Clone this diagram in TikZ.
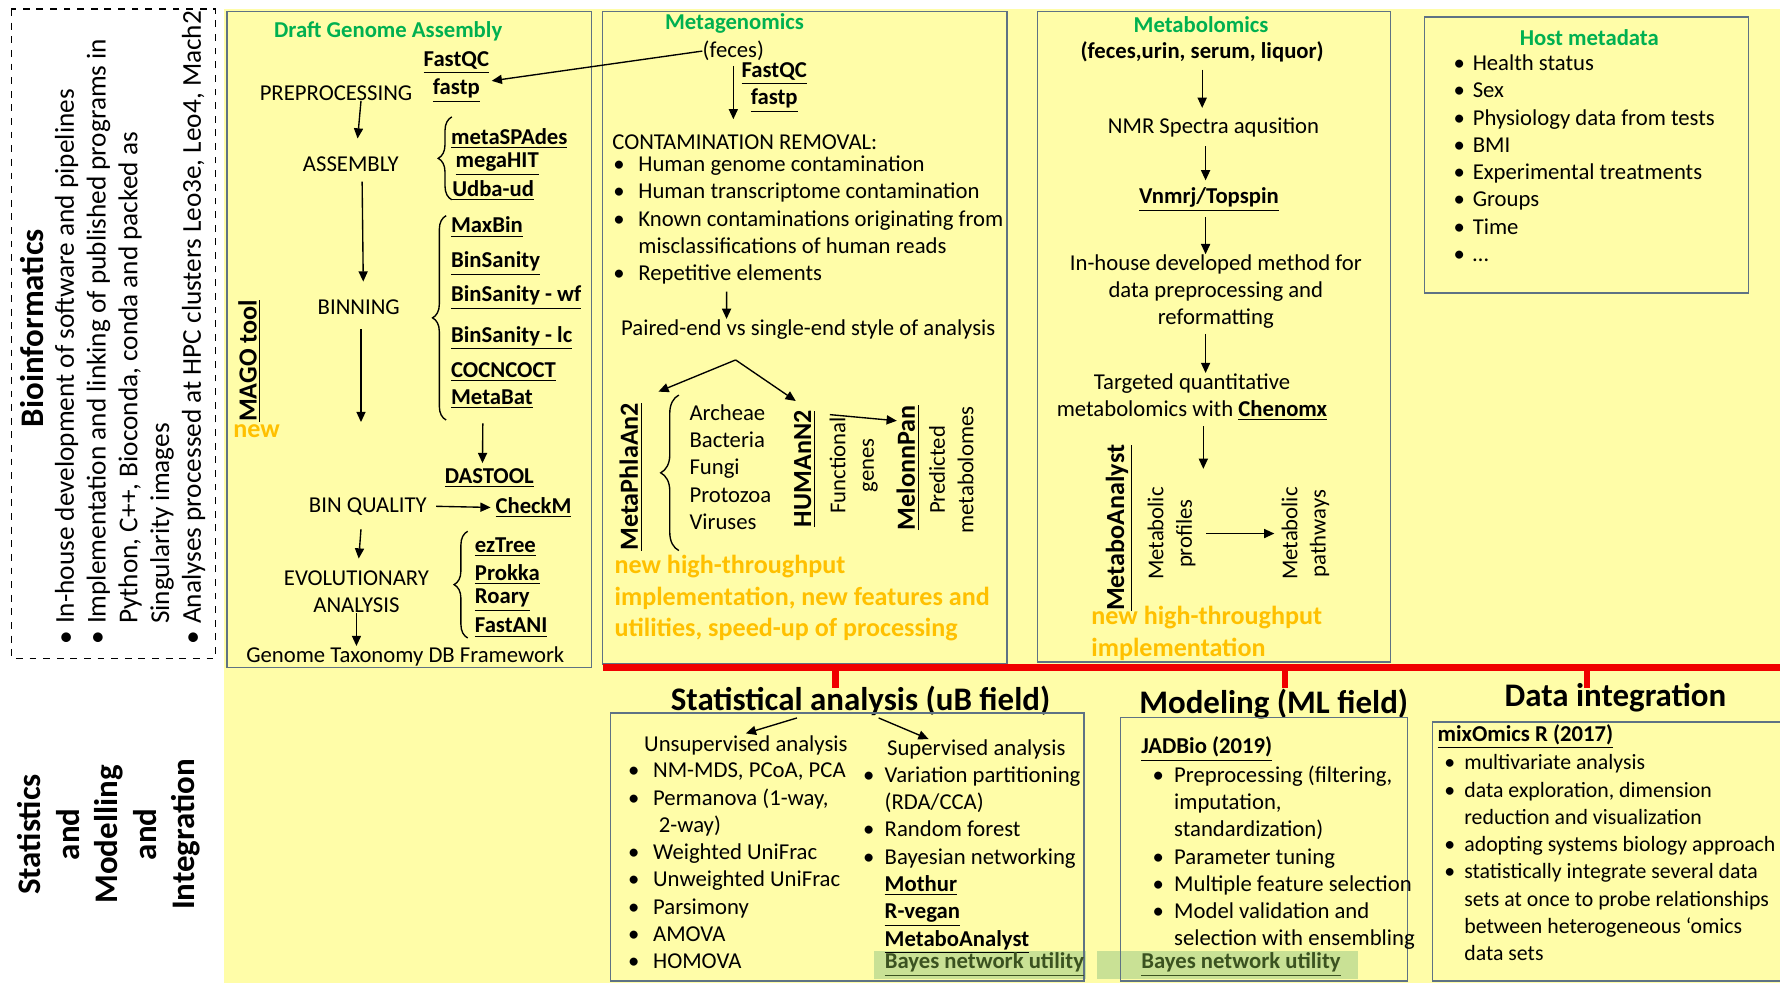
\documentclass[tikz,border=0pt]{standalone}
\usepackage{fontspec}
\setmainfont{Carlito}
\usetikzlibrary{arrows.meta,positioning,calc,decorations.pathreplacing}
\definecolor{sheet}{HTML}{FFFDA8}
\definecolor{frame}{HTML}{5E7284}
\definecolor{hdgreen}{HTML}{00B050}
\definecolor{newgold}{HTML}{FFC000}
\definecolor{redbar}{HTML}{F00000}
\definecolor{hlgreen}{HTML}{C9E195}
\definecolor{hltext}{HTML}{3B5220}
\newcommand{\tooln}[1]{\underline{\textbf{#1}}}
\newcommand{\blist}[2][6pt]{\begin{tabular}{@{}l@{\hspace{#1}}l@{}}#2\end{tabular}}
\tikzset{
  txt/.style   ={inner sep=0pt,font=\fontsize{10}{12}\selectfont},
  hdr/.style   ={inner sep=0pt,font=\fontsize{10}{12}\selectfont\bfseries,text=hdgreen},
  ttl/.style   ={inner sep=0pt,font=\fontsize{14.5}{17}\selectfont\bfseries},
  lbl/.style   ={inner sep=0pt,font=\fontsize{14.5}{17}\selectfont\bfseries,align=center},
  side/.style  ={inner sep=0pt,font=\fontsize{12}{14}\selectfont},
  vtool/.style ={inner sep=0pt,rotate=90,font=\fontsize{11.5}{14}\selectfont\bfseries},
  vtxt/.style  ={inner sep=0pt,rotate=90,align=center,font=\fontsize{10}{12.5}\selectfont},
  neu/.style   ={inner sep=0pt,align=left,text=newgold,
                 font=\fontsize{11.5}{13.75}\selectfont\bfseries},
  hl/.style    ={inner sep=0pt,text=hltext,font=\fontsize{10}{12}\selectfont},
  panel/.style ={draw=frame,line width=0.6pt},
  arr/.style   ={-{Triangle[length=4.5pt,width=4pt]},line width=0.6pt},
  brc/.style   ={decorate,decoration={brace,amplitude=6pt},line width=0.6pt},
  bar/.style   ={draw=redbar,line width=3pt}
}
\begin{document}
\begin{tikzpicture}[x=0.5pt,y=-0.5pt]
\useasboundingbox (0,0) rectangle (1568,866);
\fill[sheet] (197,8) rectangle (1568,866);

% bioinformatics side panel
\draw[dashed,line width=0.6pt] (10,8) rectangle (190,580);
\node[lbl,rotate=90] (bio) at (28,289) {Bioinformatics};
\node[side,rotate=90,anchor=north west] (biolist) at (45,568) {\blist[3pt]{%
  \textbullet & In-house development of software and pipelines\\
  \textbullet & Implementation and linking of published programs in\\
              & Python, C++, Bioconda, conda and packed as\\
              & Singularity images\\
  \textbullet & Analyses processed at HPC clusters Leo3e, Leo4, Mach2}};

% draft genome assembly
\draw[panel] (200,10) rectangle (521,588);
\node[hdr] (dga) at (342,28) {Draft Genome Assembly};
\node[txt] (dfqc) at (402,55) {\tooln{FastQC}};
\node[txt] (dfp) at (402,80) {\tooln{fastp}};
\node[txt] (pre) at (296,82) {PREPROCESSING};
\node[txt] (asm) at (309,145) {ASSEMBLY};
\node[txt,anchor=west] (spa) at (397,122) {\tooln{metaSPAdes}};
\node[txt,anchor=west] (mgh) at (401,145) {\tooln{megaHIT}};
\node[txt,anchor=west] (udb) at (398,168) {\tooln{Udba-ud}};
\draw[brc] (398,176) -- (398,103);
\node[txt] (bin) at (316,271) {BINNING};
\foreach \nm/\yy/\tx in {mxb/200/MaxBin,bsa/232/BinSanity,bwf/262/BinSanity - wf,
                         blc/298/BinSanity - lc,coc/328/COCNCOCT,mbat/352/MetaBat}
  \node[txt,anchor=west] (\nm) at (397,\yy) {\tooln{\tx}};
\draw[brc] (393,370) -- (393,190);
\node[txt] (dast) at (431,421) {\tooln{DASTOOL}};
\node[txt] (bq) at (324,446) {BIN QUALITY};
\node[txt] (chk) at (470,447) {\tooln{CheckM}};
\node[txt,align=center] (evo) at (314,521) {EVOLUTIONARY\\ANALYSIS};
\foreach \nm/\yy/\tx in {ezt/482/ezTree,prk/506/Prokka,roa/529/Roary,fani/553/FastANI}
  \node[txt,anchor=west] (\nm) at (418,\yy) {\tooln{\tx}};
\draw[brc] (412,562) -- (412,468);
\node[txt] (gtdb) at (357,578) {Genome Taxonomy DB Framework};
\node[vtool] (mago) at (220,318) {\underline{MAGO tool}};
\node[neu] (magonew) at (226,380) {new};
\draw[arr] ([xshift=11pt]pre.south) -- ([xshift=3pt,yshift=8pt]asm.north);
\draw[arr] ([xshift=5pt,yshift=-4pt]asm.south) -- ([xshift=2pt,yshift=8pt]bin.north);
\draw[arr,shorten >=33pt] ([xshift=1pt,yshift=-6pt]bin.south) -- ([xshift=-3pt]bq.north);
\draw[arr] ([xshift=-4pt,yshift=-6pt]mbat.south) -- ([xshift=-3pt,yshift=2pt]dast.north);
\draw[arr] ([xshift=4pt]bq.east) -- ([xshift=-2pt]chk.west);
\draw[arr] ([xshift=-3pt,yshift=-6pt]bq.south) -- ([xshift=1pt,yshift=5pt]evo.north);
\draw[arr] (evo.south) -- (evo.south |- gtdb.north);

% metagenomics
\draw[panel] (531,10) rectangle (887,585);
\node[hdr] (mgn) at (647,21) {Metagenomics};
\node[txt] (feces) at (646,45) {(feces)};
\node[txt] (mfqc) at (682,65) {\tooln{FastQC}};
\node[txt] (mfp) at (682,89) {\tooln{fastp}};
\node[txt,anchor=west] (crm) at (539,125) {CONTAMINATION REMOVAL:};
\node[txt,anchor=north west] (mglist) at (540,134) {\blist{%
  \textbullet & Human genome contamination\\
  \textbullet & Human transcriptome contamination\\
  \textbullet & Known contaminations originating from\\
              & misclassifications of human reads\\
  \textbullet & Repetitive elements}};
\node[txt] (pe) at (712,290) {Paired-end vs single-end style of analysis};
\node[vtool] (mpa) at (556,420) {\underline{MetaPhlaAn2}};
\draw[brc,decoration={amplitude=8pt}] (598,485) -- (598,348);
\node[txt,anchor=north west,align=left] (taxa) at (607,356)
  {Archeae\\Bacteria\\Fungi\\Protozoa\\Viruses};
\node[vtool] (hum) at (709,413) {\underline{HUMAnN2}};
\node[vtxt] (fgen) at (752,410) {Functional\\genes};
\node[vtool] (mel) at (800,412) {\underline{MelonnPan}};
\node[vtxt] (pmet) at (838,414) {Predicted\\metabolomes};
\node[neu,anchor=north west] (mgnew) at (541,489)
  {new high-throughput\\implementation, new features and\\utilities, speed-up of processing};
\coordinate (fork) at ([xshift=-32pt,yshift=-9pt]pe.south);
\coordinate (mpatop) at (580,345);
\draw[arr] (feces.west) -- ([xshift=1pt,yshift=-3pt]dfqc.south east);
\draw[arr,shorten <=2pt,shorten >=6.5pt] (feces.south) -- (feces.south |- crm.north);
\draw[arr] ([xshift=-36pt,yshift=-1pt]mglist.south) -- ([xshift=-36pt]pe.north);
\draw[arr] (fork) -- (mpatop);
\draw[arr] (fork) -- ([xshift=-4pt,yshift=4pt]hum.east);
\draw[arr] ([xshift=11pt,yshift=-2pt]hum.east) -- ([xshift=-5pt,yshift=-7pt]mel.east);

% metabolomics
\draw[panel] (914,10) rectangle (1225,583);
\node[hdr] (mbh) at (1058,22) {Metabolomics};
\node[txt,font=\fontsize{10}{12}\selectfont\bfseries] (smp) at (1059,46)
  {(feces,urin, serum, liquor)};
\node[txt] (nmr) at (1069,112) {NMR Spectra aqusition};
\node[txt] (vnm) at (1065,176) {\tooln{Vnmrj/Topspin}};
\node[txt,align=center] (inh) at (1071,257)
  {In-house developed method for\\data preprocessing and\\reformatting};
\node[txt,align=center] (tgt) at (1050,350)
  {Targeted quantitative\\metabolomics with \tooln{Chenomx}};
\coordinate (mbend) at (1060,413);
\node[vtool] (mban) at (986,465) {\underline{MetaboAnalyst}};
\node[vtxt] (prof) at (1032,470) {Metabolic\\profiles};
\node[vtxt] (pway) at (1150,470) {Metabolic\\pathways};
\node[neu,anchor=north west] (mbnew) at (961,534) {new high-throughput\\implementation};
\draw[arr,shorten <=3pt,shorten >=4pt] (smp.south) -- (smp.south |- nmr.north);
\draw[arr,shorten <=4pt,shorten >=3pt] ([xshift=-1.5pt]vnm.north |- nmr.south) -- ([xshift=-1.5pt]vnm.north);
\draw[arr,shorten <=2pt] ([xshift=-1.5pt]vnm.south) -- ([xshift=-1.5pt]vnm.south |- inh.north);
\draw[arr,shorten <=2pt] ([xshift=-4.5pt]inh.south) -- ([xshift=-4.5pt]inh.south |- tgt.north);
\draw[arr,shorten <=2pt] ([xshift=5pt]tgt.south) -- (mbend);
\draw[arr,shorten <=4.5pt,shorten >=3pt] (prof.south) -- (pway.north);

% host metadata
\draw[panel] (1255,15) rectangle (1540,258);
\node[hdr] (hmh) at (1400,33) {Host metadata};
\node[txt,anchor=north west] (hostlist) at (1280,45) {\blist[3.5pt]{%
  \textbullet & Health status\\
  \textbullet & Sex\\
  \textbullet & Physiology data from tests\\
  \textbullet & BMI\\
  \textbullet & Experimental treatments\\
  \textbullet & Groups\\
  \textbullet & Time\\
  \textbullet & \dots}};

% red link bar
\draw[bar] (531,588) -- (1568,588);
\foreach \xx in {736,1132,1398}
  \draw[bar] (\xx,588) -- (\xx,606);

% statistics and modelling and integration
\node[lbl,rotate=90] (smi) at (96,735) {Statistics\\and\\Modelling\\and\\Integration};
\fill[hlgreen] (770,838) rectangle (957,862);
\fill[hlgreen] (966,838) rectangle (1196,862);

\node[ttl] (stat) at (758,617) {Statistical analysis (uB field)};
\draw[panel] (538,628) rectangle (955,864);
\node[txt] (uns) at (657,657) {Unsupervised analysis};
\node[txt] (sup) at (860,660) {Supervised analysis};
\node[txt,anchor=north west] (unslist) at (553,668) {\blist{%
  \textbullet & NM-MDS, PCoA, PCA\\
  \textbullet & Permanova (1-way,\\
              & \hspace{2.5pt}2-way)\\
  \textbullet & Weighted UniFrac\\
  \textbullet & Unweighted UniFrac\\
  \textbullet & Parsimony\\
  \textbullet & AMOVA\\
  \textbullet & HOMOVA}};
\node[txt,anchor=north west] (suplist) at (760,672) {\blist[4.5pt]{%
  \textbullet & Variation partitioning\\
              & (RDA/CCA)\\
  \textbullet & Random forest\\
  \textbullet & Bayesian networking\\
              & \tooln{Mothur}\\
              & \tooln{R-vegan}\\
              & \tooln{MetaboAnalyst}}};
\node[hl,anchor=west] (bnu1) at (779,850) {\tooln{Bayes network utility}};
\draw[arr] ([xshift=-28pt,yshift=-1pt]stat.south) -- ([yshift=1pt]uns.north);
\draw[arr] ([xshift=8pt,yshift=-1pt]stat.south) -- ([xshift=-21pt]sup.north);

\node[ttl] (mod) at (1122,620) {Modeling (ML field)};
\draw[panel] (987,632) rectangle (1240,864);
\node[txt,anchor=west] (jad) at (1005,660) {\tooln{JADBio (2019)}};
\node[txt,anchor=north west] (jadlist) at (1015,672) {\blist[4.5pt]{%
  \textbullet & Preprocessing (filtering,\\
              & imputation,\\
              & standardization)\\
  \textbullet & Parameter tuning\\
  \textbullet & Multiple feature selection\\
  \textbullet & Model validation and\\
              & selection with ensembling}};
\node[hl,anchor=west] (bnu2) at (1005,850) {\tooln{Bayes network utility}};

\node[ttl] (integ) at (1423,615) {Data integration};
\draw[panel] (1262,636) rectangle (1575,864);
\node[txt,anchor=west] (mix) at (1266,649) {\tooln{mixOmics R (2017)}};
\node[txt,anchor=north west,font=\fontsize{9.6}{12}\selectfont] (mixlist) at (1272,661)
  {\blist[4pt]{%
  \textbullet & multivariate analysis\\
  \textbullet & data exploration, dimension\\
              & reduction and visualization\\
  \textbullet & adopting systems biology approach\\
  \textbullet & statistically integrate several data\\
              & sets at once to probe relationships\\
              & between heterogeneous `omics\\
              & data sets}};
\end{tikzpicture}
\end{document}
